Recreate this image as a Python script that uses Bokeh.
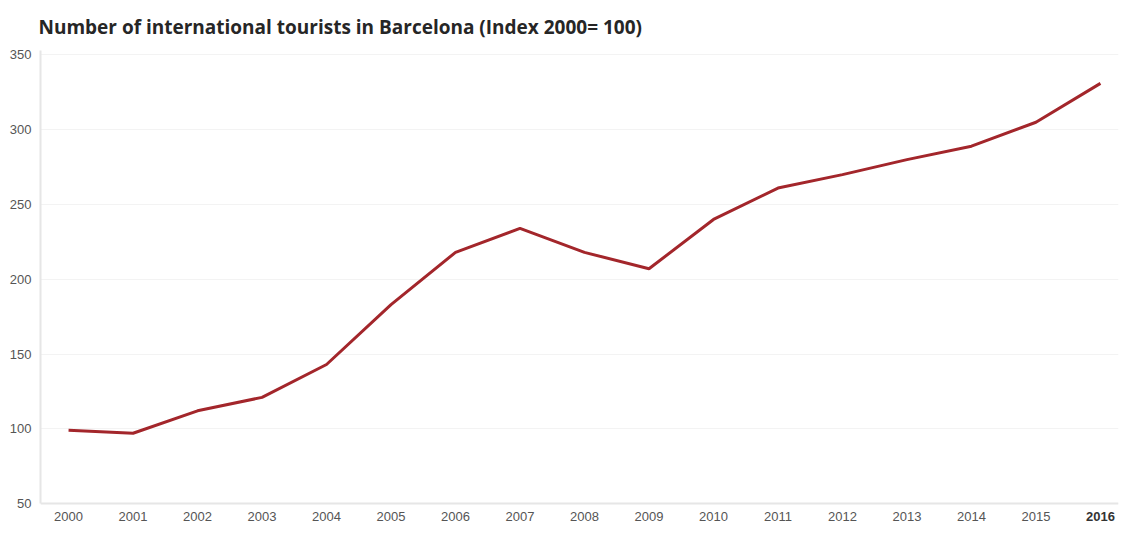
from bokeh.plotting import figure
from bokeh.models import Range1d, FixedTicker, Span
from bokeh.core.properties import value
from bokeh.embed import file_html
from bokeh.resources import INLINE

years = list(range(2000, 2017))
tourist_index = [99, 97, 112, 121, 143, 183, 218, 234, 218, 207, 240, 261, 270, 280, 289, 305, 331]
y_ticks = [50, 100, 150, 200, 250, 300, 350]
year_labels = [str(y) for y in years]
title_text = "Number of international tourists in Barcelona (Index 2000= 100)"

p = figure(width=1120, height=525, x_range=Range1d(1999.565, 2016.28), y_range=Range1d(35.3, 353),
           output_backend="svg", toolbar_location=None, x_axis_location=None,
           min_border_left=40, min_border_right=2, min_border_top=5, min_border_bottom=0)

p.title.text = title_text
p.title.text_font = "Open Sans"
p.title.text_font_size = "19px"
p.title.text_font_style = "bold"
p.title.text_color = "#262626"
p.title.offset = -2
p.title.standoff = 22

p.outline_line_color = None
p.background_fill_color = "white"
p.border_fill_color = "white"

p.xgrid.grid_line_color = None
p.ygrid.grid_line_color = "#f3f3f3"
p.ygrid.ticker = FixedTicker(ticks=y_ticks)

p.yaxis.ticker = FixedTicker(ticks=y_ticks)
p.yaxis.bounds = (y_ticks[0], 353)
p.yaxis.axis_line_color = "#e6e6e6"
p.yaxis.axis_line_width = 2
p.yaxis.major_tick_line_color = None
p.yaxis.minor_tick_line_color = None
p.yaxis.major_label_text_font = "Liberation Sans"
p.yaxis.major_label_text_font_size = "13px"
p.yaxis.major_label_text_color = "#555555"
p.yaxis.major_label_standoff = 3

# x axis line
p.add_layout(Span(location=y_ticks[0], dimension="width", line_color="#e6e6e6", line_width=2))

# x tick labels (last one bold)
p.text(x=years[:-1], y=[y_ticks[0]] * (len(years) - 1), text=year_labels[:-1],
       text_align="center", text_baseline="middle", y_offset=13,
       text_font=value("Liberation Sans"), text_font_size="13px", text_color="#555555")
p.text(x=years[-1:], y=[y_ticks[0]], text=year_labels[-1:],
       text_align="center", text_baseline="middle", y_offset=13,
       text_font=value("Liberation Sans"), text_font_size="13px", text_font_style="bold",
       text_color="#333333")

p.line(years, tourist_index, line_color="#a3262b", line_width=3)

open("out.html", "w").write(file_html(p, INLINE))
